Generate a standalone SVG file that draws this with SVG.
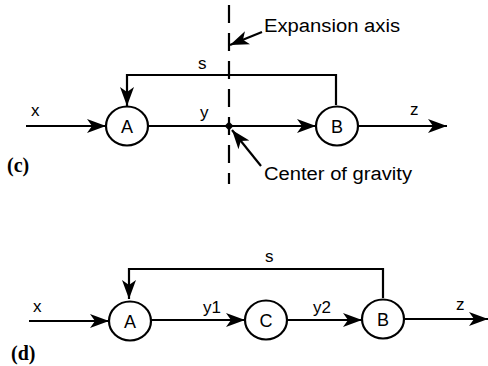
<svg xmlns="http://www.w3.org/2000/svg" width="488" height="366" viewBox="0 0 488 366">
<style>
.ln{stroke:#000;stroke-width:2.2;fill:none}
.ar{marker-end:url(#ah)}
.nd{stroke:#000;stroke-width:2.2;fill:#fff}
.t{font-family:"Liberation Sans",Arial,Helvetica,sans-serif;font-size:17px;fill:#000}
.ct{font-family:"Liberation Sans",Arial,Helvetica,sans-serif;font-size:18px;fill:#000;text-anchor:middle}
.lb{font-family:"Liberation Serif","Times New Roman",serif;font-size:20px;font-weight:bold;fill:#000}
.dash{stroke:#000;stroke-width:2.2;stroke-dasharray:18 10;fill:none}
</style>
<defs>
<marker id="ah" markerWidth="24" markerHeight="18" refX="19" refY="8" orient="auto" markerUnits="userSpaceOnUse">
<path d="M0,1 L19,8 L0,15 L5,8 Z" fill="#000"/>
</marker>
</defs>
<g id="connectors">
<!-- (c) -->
<line class="ln ar" x1="26" y1="126" x2="106" y2="126"/>
<line class="ln" x1="148" y1="126" x2="229" y2="126"/>
<line class="ln ar" x1="229" y1="126" x2="316" y2="126"/>
<line class="ln ar" x1="358" y1="126" x2="447" y2="126"/>
<polyline class="ln ar" points="336,105 336,75 127,75 127,106"/>
<line class="dash" x1="229" y1="5" x2="229" y2="184"/>
<path d="M229,121.5 L233.5,126 L229,130.5 L224.5,126 Z" fill="#000"/>
<line class="ln ar" x1="262" y1="32" x2="230" y2="45"/>
<line class="ln ar" x1="261" y1="166" x2="232" y2="130"/>
<!-- (d) -->
<line class="ln ar" x1="29" y1="321" x2="109" y2="321"/>
<line class="ln ar" x1="151" y1="320" x2="245" y2="320"/>
<line class="ln ar" x1="287" y1="320" x2="362" y2="320"/>
<line class="ln ar" x1="404" y1="319" x2="488" y2="319"/>
<polyline class="ln ar" points="383,298 383,269 129,269 129,299"/>
</g>
<g id="node-c-A"><ellipse class="nd" cx="127" cy="126" rx="21" ry="19.5"/><text class="ct" x="127" y="132.5">A</text></g>
<g id="node-c-B"><ellipse class="nd" cx="337" cy="126" rx="21" ry="19.5"/><text class="ct" x="337" y="132.5">B</text></g>
<g id="node-d-A"><ellipse class="nd" cx="130" cy="321" rx="21" ry="19.5"/><text class="ct" x="130" y="327.5">A</text></g>
<g id="node-d-C"><ellipse class="nd" cx="266" cy="320" rx="21" ry="19.5"/><text class="ct" x="266" y="326.5">C</text></g>
<g id="node-d-B"><ellipse class="nd" cx="383" cy="319" rx="21" ry="19.5"/><text class="ct" x="383" y="325.5">B</text></g>
<g id="labels">
<text class="t" x="31" y="116">x</text>
<text class="t" x="198" y="69">s</text>
<text class="t" x="200" y="118">y</text>
<text class="t" x="410" y="115">z</text>
<text class="t" x="264" y="32" textLength="136" lengthAdjust="spacingAndGlyphs" style="font-size:18px">Expansion axis</text>
<text class="t" x="264" y="180" textLength="148" lengthAdjust="spacingAndGlyphs" style="font-size:18px">Center of gravity</text>
<text class="lb" x="7" y="172">(c)</text>
<text class="t" x="33" y="312">x</text>
<text class="t" x="265" y="262">s</text>
<text class="t" x="203" y="313">y1</text>
<text class="t" x="313" y="313">y2</text>
<text class="t" x="456" y="310">z</text>
<text class="lb" x="11" y="360">(d)</text>
</g>
</svg>
